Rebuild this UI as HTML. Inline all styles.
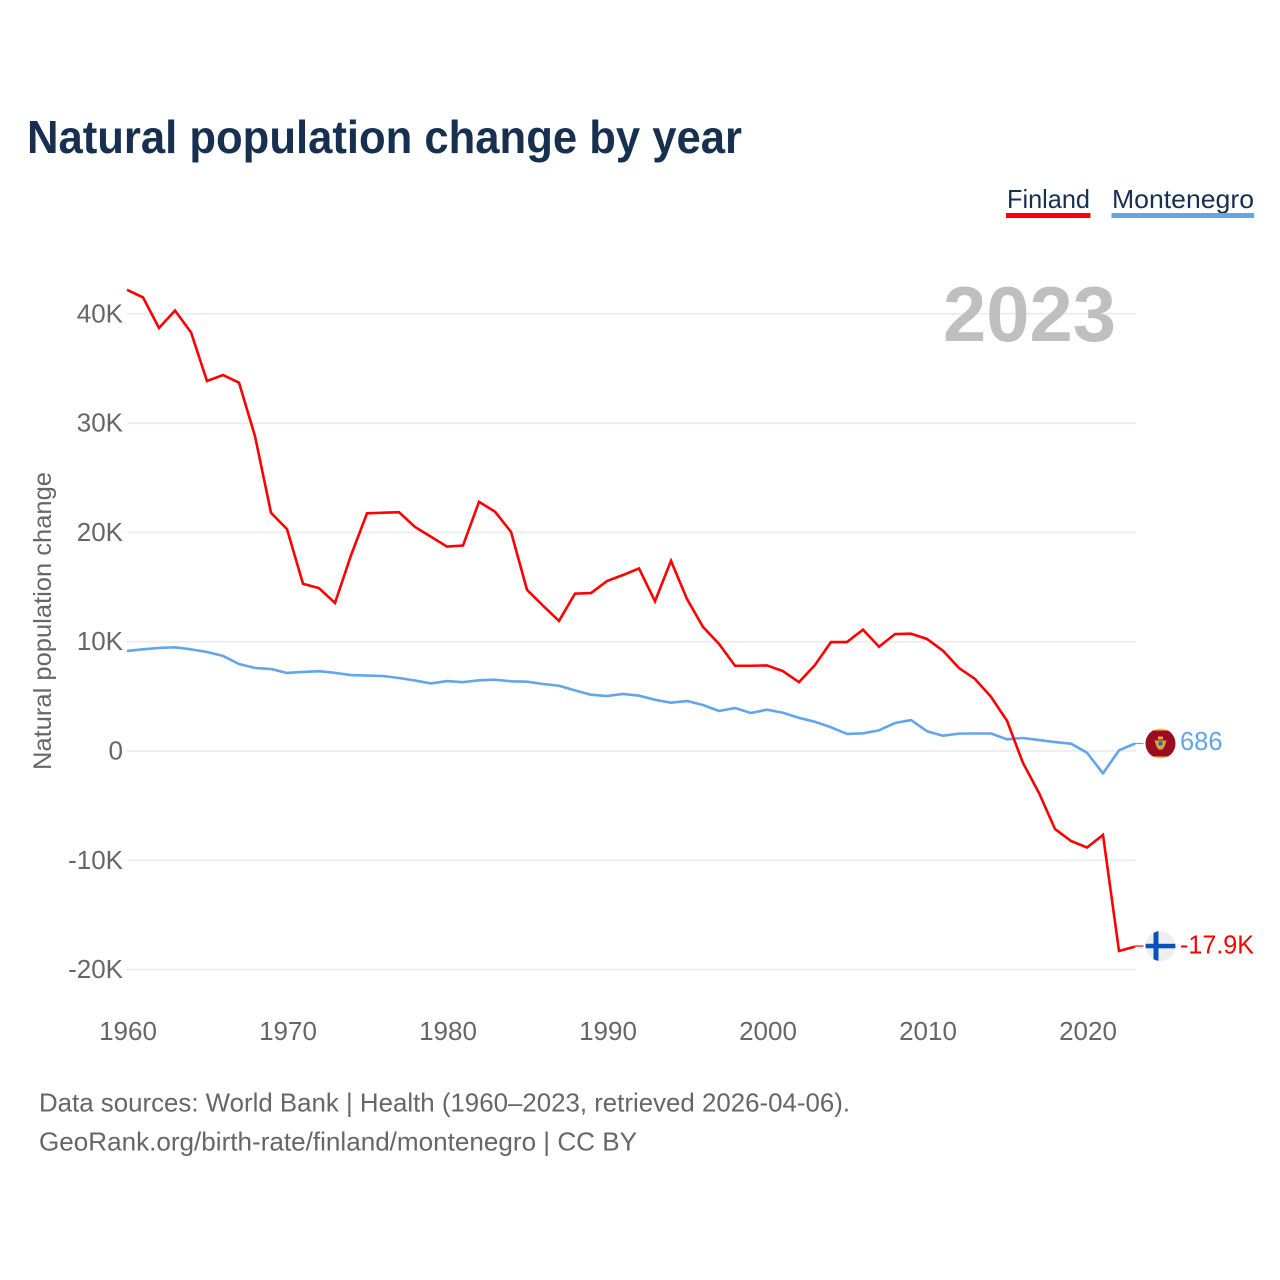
<!DOCTYPE html>
<html lang="en">
<head>
<meta charset="utf-8">
<title>Natural population change by year</title>
<style>
html,body{margin:0;padding:0;background:#fff;}
svg{display:block;font-family:"Liberation Sans",sans-serif;}
</style>
</head>
<body>
<svg id="chart" xmlns="http://www.w3.org/2000/svg" width="1280" height="1280" viewBox="0 0 1280 1280">
  <rect x="0" y="0" width="1280" height="1280" fill="#ffffff"/>
  <text x="27" y="153" font-size="46" font-weight="700" fill="#17304f" textLength="715" lengthAdjust="spacingAndGlyphs">Natural population change by year</text>

  <g>
    <g>
      <text x="1007" y="208" font-size="26" fill="#17304f" textLength="83" lengthAdjust="spacingAndGlyphs">Finland</text>
      <rect x="1006" y="213" width="84.5" height="5" fill="#ff0000"/>
    </g>
    <g>
      <text x="1112" y="208" font-size="26" fill="#17304f" textLength="142" lengthAdjust="spacingAndGlyphs">Montenegro</text>
      <rect x="1111.5" y="213" width="142.5" height="5" fill="#62a5eb"/>
    </g>
  </g>

  <g id="grid"></g>
  <g id="yticks"></g>
  <g id="xticks"></g>

  <text transform="translate(51,621) rotate(-90)" text-anchor="middle" font-size="25" fill="#666666" textLength="298" lengthAdjust="spacingAndGlyphs">Natural population change</text>
  <text x="943" y="341" font-size="78" font-weight="700" fill="#bfbfbf" textLength="173" lengthAdjust="spacingAndGlyphs">2023</text>

  <g id="series"></g>
  <g id="ends"></g>

  <text x="39" y="1111.5" font-size="26" fill="#666666" textLength="811" lengthAdjust="spacingAndGlyphs">Data sources: World Bank | Health (1960–2023, retrieved 2026-04-06).</text>
  <text x="39" y="1150.5" font-size="26" fill="#666666" textLength="598" lengthAdjust="spacingAndGlyphs">GeoRank.org/birth-rate/finland/montenegro | CC BY</text>
</svg>
<script>
const startYear = 1960;
const finlandValues = [
  42.2,41.5,38.7,40.3,38.3,33.85,34.4,33.7,28.8,21.8,
  20.3,15.3,14.9,13.55,17.9,21.75,21.8,21.85,20.5,19.6,
  18.7,18.8,22.8,21.9,20.05,14.75,13.3,11.9,14.4,14.45,
  15.55,16.1,16.7,13.7,17.4,13.9,11.35,9.8,7.8,7.8,
  7.83,7.3,6.3,7.87,9.97,9.97,11.1,9.54,10.7,10.73,
  10.25,9.17,7.59,6.59,4.96,2.77,-1.1,-3.84,-7.14,-8.23,
  -8.83,-7.68,-18.3,-17.9
];
const montenegroValues = [
  9.15,9.3,9.43,9.49,9.3,9.06,8.7,7.96,7.6,7.5,
  7.14,7.23,7.3,7.15,6.95,6.9,6.86,6.68,6.45,6.18,
  6.4,6.3,6.47,6.52,6.38,6.34,6.13,5.97,5.55,5.15,
  5.03,5.22,5.06,4.69,4.42,4.57,4.21,3.66,3.93,3.48,
  3.78,3.5,3.03,2.67,2.17,1.56,1.62,1.89,2.56,2.83,
  1.81,1.4,1.59,1.6,1.6,1.07,1.19,1.0,0.82,0.67,
  -0.16,-2.05,0.06,0.686
];
const yTickValues = [40,30,20,10,0,-10,-20];
const yTickLabels = ["40K","30K","20K","10K","0","-10K","-20K"];
const xTickYears = [1960,1970,1980,1990,2000,2010,2020];
const finlandEndLabel = "-17.9K";
const montenegroEndLabel = "686";

const NS = "http://www.w3.org/2000/svg";
function xScale(year){ return 127 + (year - 1960) * 16; }
function yScale(value){ return 751 - value * 10.93; }
function make(tag, attrs, parent){
  const node = document.createElementNS(NS, tag);
  for (const key in attrs) node.setAttribute(key, attrs[key]);
  parent.appendChild(node);
  return node;
}

const grid = document.getElementById("grid");
const yticks = document.getElementById("yticks");
const xticks = document.getElementById("xticks");
const series = document.getElementById("series");
const ends = document.getElementById("ends");

yTickValues.forEach(function(value, i){
  const line = make("line", {x1:127, x2:1136, y1:yScale(value), y2:yScale(value), stroke:"#eeeeee", "stroke-width":2}, grid);
  
  
  const label = make("text", {x:123, y:yScale(value)+8.5, "text-anchor":"end", "font-size":26, fill:"#666666"}, yticks);
  
  
  label.textContent = yTickLabels[i];
});

xTickYears.forEach(function(year){
  const label = make("text", {x:xScale(year)+1, y:1040, "text-anchor":"middle", "font-size":26, fill:"#666666"}, xticks);
  
  
  label.textContent = String(year);
});

function pointsFor(values){
  return values.map(function(v, i){ return xScale(startYear + i) + "," + yScale(v); }).join(" ");
}

const montenegroLine = make("polyline", {points:pointsFor(montenegroValues), fill:"none", stroke:"#62a5eb", "stroke-width":2.6, "stroke-linejoin":"round"}, series);


const finlandLine = make("polyline", {points:pointsFor(finlandValues), fill:"none", stroke:"#ff0000", "stroke-width":2.6, "stroke-linejoin":"miter"}, series);



const defs = make("defs", {}, ends);
const lastX = xScale(startYear + finlandValues.length - 1);
const flagX = lastX + 25.5;

// Montenegro end marker
const meY = yScale(montenegroValues[montenegroValues.length - 1]);
const meConnector = make("line", {x1:lastX, x2:flagX-17, y1:meY, y2:meY, stroke:"#62a5eb", "stroke-width":1.2}, ends);


const meClip = make("clipPath", {id:"clip-me"}, defs);
make("circle", {cx:flagX, cy:meY, r:15}, meClip);
const meFlag = make("g", {"clip-path":"url(#clip-me)"}, ends);


make("rect", {x:flagX-15, y:meY-15, width:30, height:30, fill:"#f2c53d"}, meFlag);
make("rect", {x:flagX-15, y:meY-13, width:30, height:26, fill:"#9b0b22"}, meFlag);
make("rect", {x:flagX-2.5, y:meY-7, width:5, height:3, fill:"#e0a93a"}, meFlag);
make("polygon", {points:[flagX-6,meY-3,flagX+6,meY-3,flagX+4,meY+3,flagX+2,meY+6,flagX-2,meY+6,flagX-4,meY+3].join(" "), fill:"#d9a93e"}, meFlag);
make("rect", {x:flagX-2, y:meY-2, width:4, height:4, fill:"#2f6aa8"}, meFlag);
const meLabel = make("text", {x:flagX+19.5, y:meY+6.5, "font-size":25.5, fill:"#62a5eb"}, ends);


meLabel.textContent = montenegroEndLabel;

// Finland end marker
const fiY = yScale(finlandValues[finlandValues.length - 1]) - 0.6;
const fiConnector = make("line", {x1:lastX, x2:flagX-17, y1:fiY, y2:fiY, stroke:"#ff0000", "stroke-width":1.2}, ends);


const fiClip = make("clipPath", {id:"clip-fi"}, defs);
make("circle", {cx:flagX, cy:fiY, r:15}, fiClip);
const fiFlag = make("g", {"clip-path":"url(#clip-fi)"}, ends);


make("rect", {x:flagX-15, y:fiY-15, width:30, height:30, fill:"#eeeeee"}, fiFlag);
make("rect", {x:flagX-7, y:fiY-15, width:5, height:30, fill:"#0a52b5"}, fiFlag);
make("rect", {x:flagX-15, y:fiY-2.25, width:30, height:4.5, fill:"#0a52b5"}, fiFlag);
const fiLabel = make("text", {x:flagX+19.5, y:fiY+7.5, "font-size":25.5, fill:"#ff0000", textLength:74, lengthAdjust:"spacingAndGlyphs"}, ends);


fiLabel.textContent = finlandEndLabel;
</script>
</body>
</html>
